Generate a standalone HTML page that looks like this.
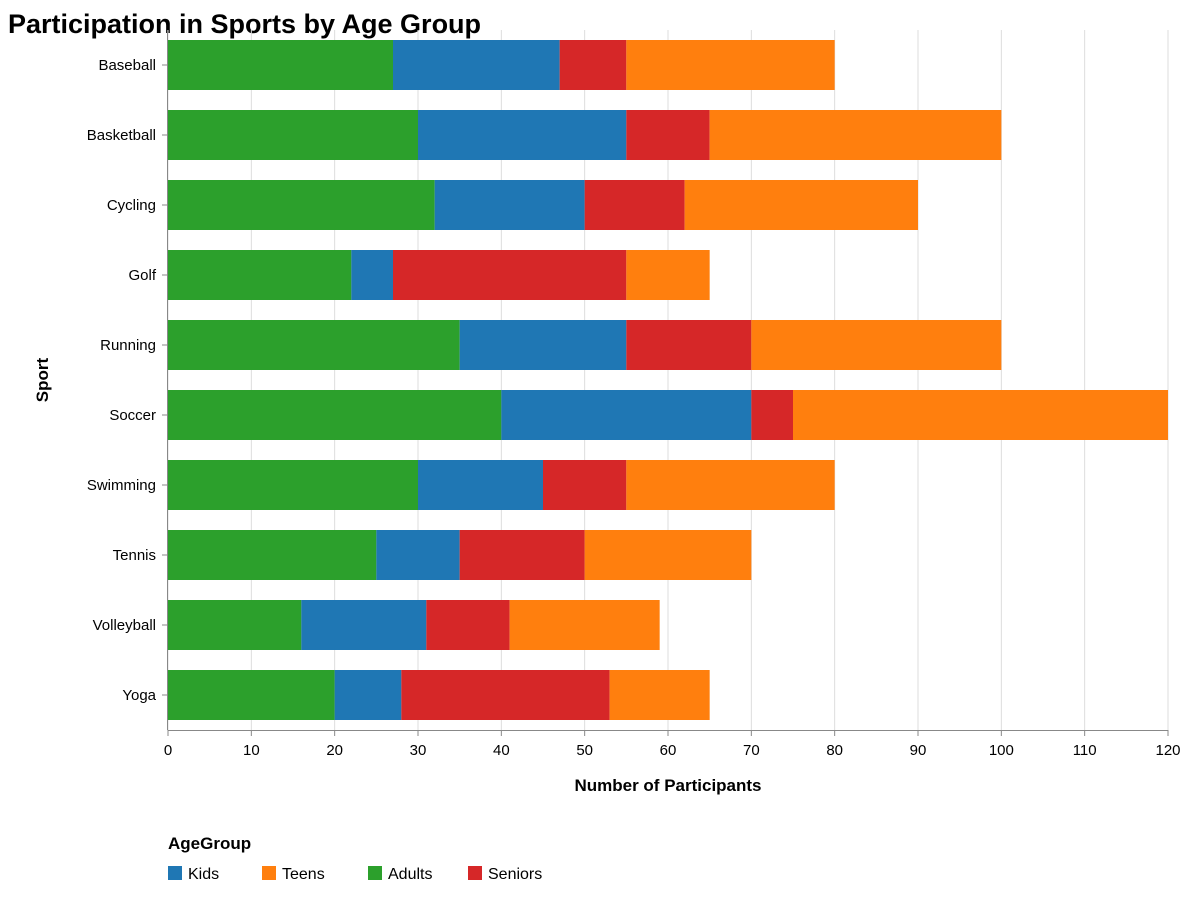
<!DOCTYPE html>
<html><head><meta charset="utf-8"><style>body{margin:0;background:#fff}svg{font-family:"Liberation Sans",Arial,sans-serif}</style></head>
<body>
<svg id="chart" width="1180" height="894">
<text x="8" y="33" font-size="27" font-weight="bold" fill="#000">Participation in Sports by Age Group</text>
<g id="grid"></g><g id="bars"></g><g id="axes"></g>
<text x="668" y="791" text-anchor="middle" font-size="17" font-weight="bold">Number of Participants</text>
<text transform="translate(48,380) rotate(-90)" text-anchor="middle" font-size="17" font-weight="bold">Sport</text>
<text x="168" y="849" font-size="17" font-weight="bold">AgeGroup</text>
<g id="legend"></g>
</svg>
<script>
const sports=["Baseball","Basketball","Cycling","Golf","Running","Soccer","Swimming","Tennis","Volleyball","Yoga"];
const adults=[27,30,32,22,35,40,30,25,16,20];
const kids=[20,25,18,5,20,30,15,10,15,8];
const seniors=[8,10,12,28,15,5,10,15,10,25];
const teens=[25,35,28,10,30,45,25,20,18,12];
const xTicks=[0,10,20,30,40,50,60,70,80,90,100,110,120];
const groups=["Adults","Kids","Seniors","Teens"];
const series=[adults,kids,seniors,teens];
const colors={Kids:"#1f77b4",Teens:"#ff7f0e",Adults:"#2ca02c",Seniors:"#d62728"};
const legendOrder=["Kids","Teens","Adults","Seniors"];
const NS="http://www.w3.org/2000/svg";
const x0=168,x1=1168,y0=30,bandH=70,xMax=120;
const x=v=>x0+v/xMax*(x1-x0);
const y=i=>y0+i*bandH;
function mk(t,a,p){const e=document.createElementNS(NS,t);for(const k in a)e.setAttribute(k,a[k]);p.appendChild(e);return e;}
const grid=document.getElementById('grid'),bars=document.getElementById('bars'),axes=document.getElementById('axes'),leg=document.getElementById('legend');
xTicks.forEach(t=>{
 const l=mk('line',{x1:x(t),x2:x(t),y1:y0,y2:y0+sports.length*bandH,stroke:"#ddd"},grid);
 
 
 const tk=mk('line',{x1:x(t),x2:x(t),y1:730,y2:736,stroke:"#888"},axes);
 
 
 const tx=mk('text',{x:x(t),y:755,"text-anchor":"middle","font-size":15,fill:"#000"},axes);
 tx.textContent=t;
 
 
});
mk('line',{x1:x0,x2:x1,y1:730.5,y2:730.5,stroke:"#888"},axes);
mk('line',{x1:x0-0.5,x2:x0-0.5,y1:y0,y2:730,stroke:"#888"},axes);
sports.forEach((s,i)=>{
 let acc=0;
 series.forEach((arr,g)=>{
  const r=mk('rect',{x:x(acc),y:y(i)+10,width:x(acc+arr[i])-x(acc),height:50,fill:colors[groups[g]]},bars);
  
  
  acc+=arr[i];
 });
 const tk=mk('line',{x1:x0-6,x2:x0,y1:y(i)+35,y2:y(i)+35,stroke:"#888"},axes);
 
 
 const tx=mk('text',{x:x0-12,y:y(i)+40,"text-anchor":"end","font-size":15,fill:"#000"},axes);
 tx.textContent=s;
 
 
});
const lx=[168,262,368,468];
legendOrder.forEach((g,i)=>{
 const r=mk('rect',{x:lx[i],y:866,width:14,height:14,fill:colors[g]},leg);
 
 
 const t=mk('text',{x:lx[i]+20,y:879,"font-size":16,fill:"#000"},leg);
 t.textContent=g;
 
 
});
</script>
</body></html>
